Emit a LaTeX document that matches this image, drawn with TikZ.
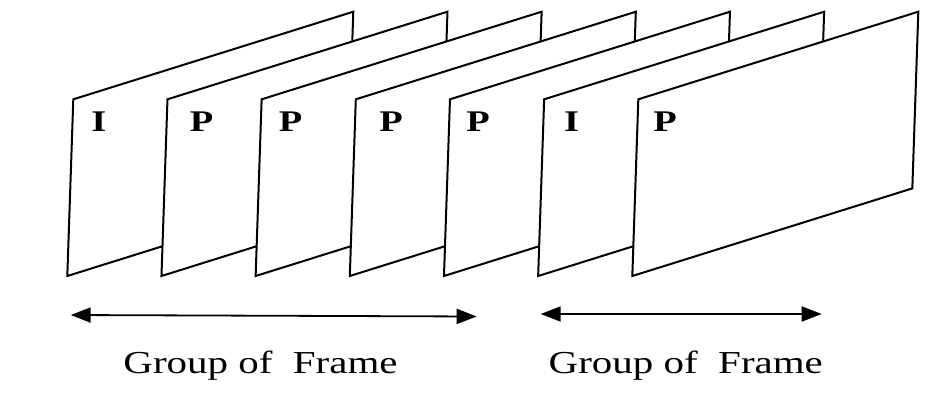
\documentclass[tikz,border=0pt]{standalone}
\usepackage{fontspec}
\usepackage{graphicx}
\setmainfont{Liberation Serif}
\usetikzlibrary{arrows.meta}
\tikzset{
  framebox/.style={draw=black, fill=white, line width=2pt, line join=miter},
  framelabel/.style={inner sep=0pt, anchor=center, font=\fontsize{30}{30}\selectfont\bfseries},
  gofarrow/.style={line width=1.8pt, {Triangle[length=20pt,width=15pt]}-{Triangle[length=20pt,width=15pt]}},
  goftext/.style={inner sep=0pt, anchor=base, font=\fontsize{32}{32}\selectfont}
}
\newcommand{\stretchtxt}[1]{\scalebox{1.28}[1]{#1}}
\begin{document}
\begin{tikzpicture}[x=1pt,y=-1pt]
\useasboundingbox (0,0) rectangle (951,400);
\foreach \i in {0,...,6}{
  \pgfmathsetmacro{\dx}{94.17*\i}
  \draw[framebox] (67.3+\dx,276) -- (73.3+\dx,99.3) -- (353.3+\dx,11.7) -- (347.3+\dx,188.4) -- cycle;
}
\node[framelabel] (l1) at (98.8,121.3) {\stretchtxt{I}};
\node[framelabel] (l2) at (201.7,121.3) {\stretchtxt{P}};
\node[framelabel] (l3) at (290.5,121.3) {\stretchtxt{P}};
\node[framelabel] (l4) at (391,121.3) {\stretchtxt{P}};
\node[framelabel] (l5) at (478,121.3) {\stretchtxt{P}};
\node[framelabel] (l6) at (571.5,121.3) {\stretchtxt{I}};
\node[framelabel] (l7) at (665,121.3) {\stretchtxt{P}};
\coordinate (a1l) at (70.7,315);
\coordinate (a1r) at (476.7,316.5);
\coordinate (a2l) at (540.7,314);
\coordinate (a2r) at (821.7,314);
\draw[gofarrow] (a1l) -- (a1r);
\draw[gofarrow] (a2l) -- (a2r);
\node[goftext] (g1) at (260.5,373.3) {\stretchtxt{Group of\ \ Frame}};
\node[goftext] (g2) at (685.8,373.3) {\stretchtxt{Group of\ \ Frame}};
\end{tikzpicture}
\end{document}
